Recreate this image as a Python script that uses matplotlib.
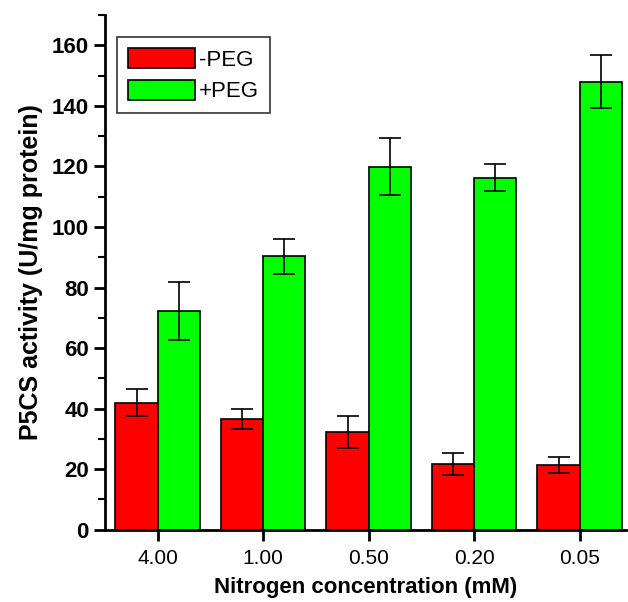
import numpy as np
import matplotlib.pyplot as plt
from matplotlib.ticker import MultipleLocator

plt.rcParams['font.family'] = ['Liberation Sans', 'DejaVu Sans']

conc = ["4.00", "1.00", "0.50", "0.20", "0.05"]
minus_peg = [42.0, 36.7, 32.2, 21.8, 21.3]
minus_err = [4.5, 3.3, 5.3, 3.6, 2.6]
plus_peg = [72.2, 90.3, 119.9, 116.3, 148.0]
plus_err = [9.5, 5.7, 9.4, 4.4, 8.8]

x = np.arange(len(conc))
w = 0.4

fig = plt.figure(figsize=(6.28, 6.02), dpi=100)
ax = fig.add_axes([0.167, 0.12, 0.83, 0.855])

ax.bar(x - w / 2, minus_peg, w, color="#ff0000", edgecolor="black", linewidth=1.2,
       yerr=minus_err, capsize=8, error_kw=dict(elinewidth=1.2, capthick=1.2, ecolor="black"),
       label="-PEG")
ax.bar(x + w / 2, plus_peg, w, color="#00ff00", edgecolor="black", linewidth=1.2,
       yerr=plus_err, capsize=8, error_kw=dict(elinewidth=1.2, capthick=1.2, ecolor="black"),
       label="+PEG")

ax.set_xlim(-0.5, 4.44)
ax.set_ylim(0, 170)
ax.set_xticks(x)
ax.set_xticklabels(conc, fontsize=15)
ax.yaxis.set_minor_locator(MultipleLocator(10))
ax.set_yticks(np.arange(0, 161, 20))
for lab in ax.get_yticklabels():
    lab.set_fontsize(16)
    lab.set_fontweight("bold")

ax.spines["top"].set_visible(False)
ax.spines["right"].set_visible(False)
ax.spines["left"].set_linewidth(2)
ax.spines["bottom"].set_linewidth(2)
ax.tick_params(axis="both", which="major", direction="out", length=8, width=2)
ax.tick_params(axis="y", which="minor", direction="out", length=5, width=1.5)
ax.tick_params(axis="x", pad=6)

ax.set_xlabel("Nitrogen concentration (mM)", fontsize=16, fontweight="bold", labelpad=6)
ax.set_ylabel("P5CS activity (U/mg protein)", fontsize=18, fontweight="bold", labelpad=6)

leg = ax.legend(loc="upper left", bbox_to_anchor=(0.023, 0.957), borderaxespad=0,
                fontsize=16, handlelength=3.0, handleheight=1.0, handletextpad=0.2,
                fancybox=False, edgecolor="black", borderpad=0.5, labelspacing=0.4)
leg.get_frame().set_linewidth(1.2)

fig.savefig("out.png", dpi=100)
